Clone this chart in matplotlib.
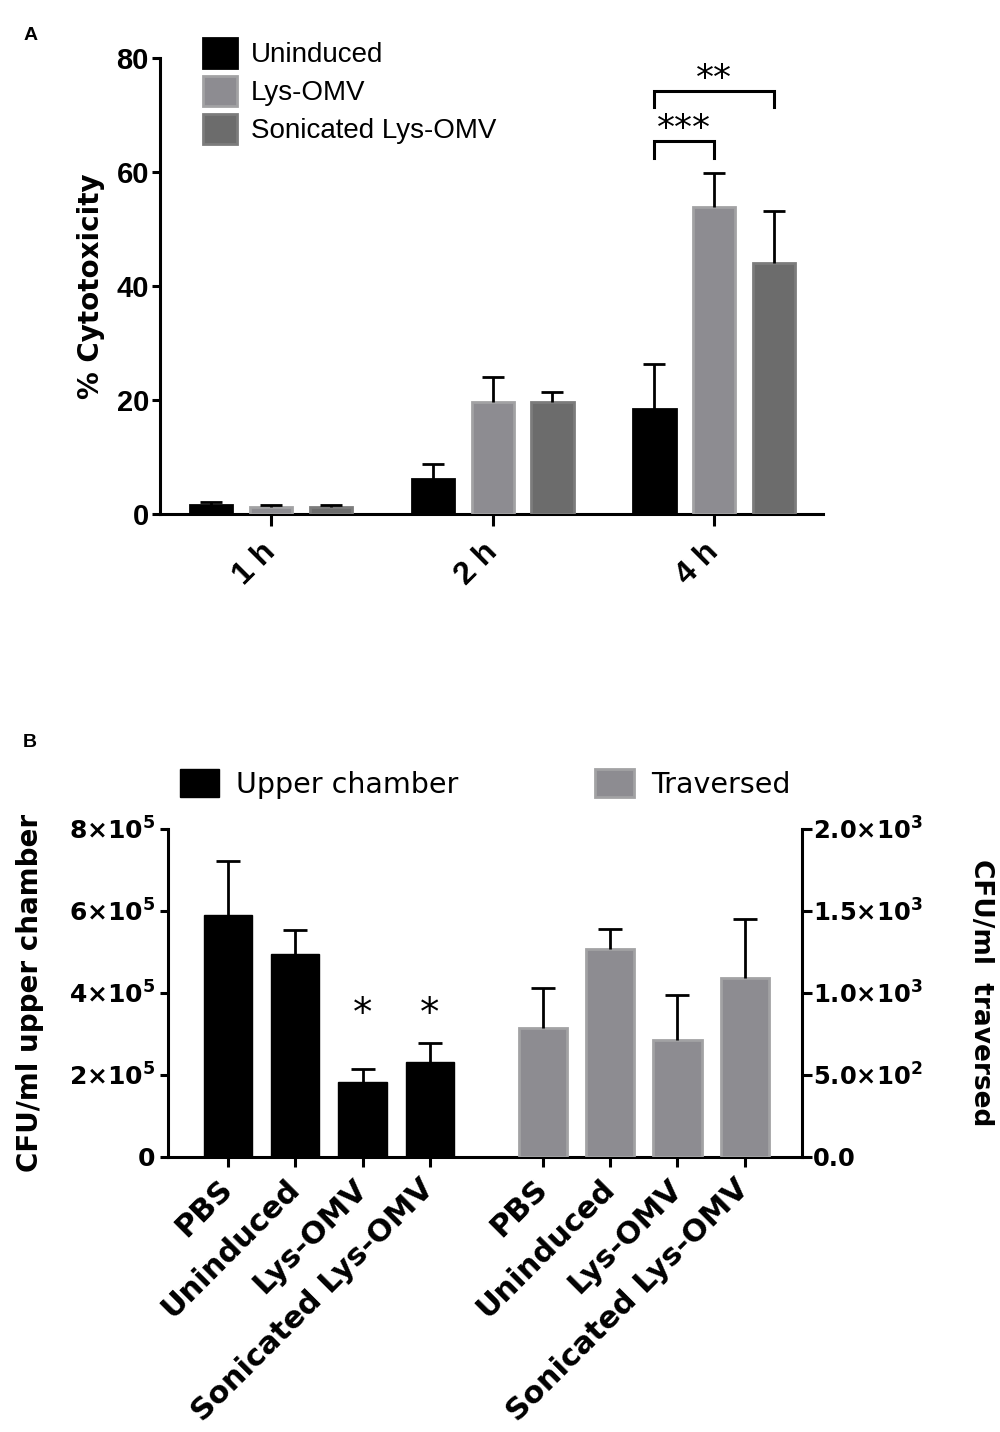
import numpy as np
import matplotlib
matplotlib.use('Agg')
import matplotlib.pyplot as plt
from matplotlib import font_manager

# ---- panel A: % cytotoxicity over time ----
times = ['1 h', '2 h', '4 h']
series_a = ['Uninduced', 'Lys-OMV', 'Sonicated Lys-OMV']
uninduced_mean = [1.6, 6.1, 18.4]
uninduced_err = [0.5, 2.7, 8.0]
lys_mean = [1.2, 19.6, 53.8]
lys_err = [0.35, 4.4, 6.1]
sonic_mean = [1.2, 19.7, 44.1]
sonic_err = [0.4, 1.7, 9.1]
# (group, bar_from, bar_to, leg bottom, bar top, label)
brackets = [(2, 0, 1, 62.5, 65.5, '***'),
            (2, 0, 2, 71.4, 74.2, '**')]

# ---- panel B: CFU/ml ----
conditions = ['PBS', 'Uninduced', 'Lys-OMV', 'Sonicated Lys-OMV']
upper_mean = [5.9e5, 4.96e5, 1.84e5, 2.31e5]
upper_err = [1.31e5, 0.57e5, 0.31e5, 0.47e5]
upper_sig = ['', '', '*', '*']
trav_mean = [787, 1266, 716, 1093]
trav_err = [245, 122, 271, 361]

left_ticks = [0, 2e5, 4e5, 6e5, 8e5]
left_labels = ['0', r'$\mathbf{2{\times}10^{5}}$', r'$\mathbf{4{\times}10^{5}}$',
               r'$\mathbf{6{\times}10^{5}}$', r'$\mathbf{8{\times}10^{5}}$']
right_ticks = [0, 500, 1000, 1500, 2000]
right_labels = ['0.0', r'$\mathbf{5.0{\times}10^{2}}$', r'$\mathbf{1.0{\times}10^{3}}$',
                r'$\mathbf{1.5{\times}10^{3}}$', r'$\mathbf{2.0{\times}10^{3}}$']

names = {f.name for f in font_manager.fontManager.ttflist}
NARROW = 'Liberation Sans Narrow' if 'Liberation Sans Narrow' in names else 'Liberation Sans'
ARIAL = 'Liberation Sans'

LW = 2.2
colors = {'Uninduced': ('#000000', '#000000'),
          'Lys-OMV': ('#8d8c91', '#a2a2a4'),
          'Sonicated Lys-OMV': ('#6c6c6c', '#7c7c7c')}
trav_color = ('#8d8c91', '#a2a2a4')

plt.rcParams['font.family'] = ['DejaVu Sans']
fig = plt.figure(figsize=(10, 14.32), dpi=100)


def err_up(ax, x, mean, err, capsize=8):
    cont = ax.errorbar(x, mean, yerr=[np.zeros(len(err)), err], fmt='none',
                       ecolor='black', elinewidth=2.0, capsize=capsize,
                       capthick=2.0, zorder=4)
    cont[1][0].set_visible(False)


# ================= panel A =================
axA = fig.add_axes([0.160, 1 - 514 / 1432, 0.663, (514 - 58) / 1432])
x = np.arange(len(times))
offs = [-0.27, 0.0, 0.27]
width = 0.19
bars_a = []
for name, m, e, o in zip(series_a, [uninduced_mean, lys_mean, sonic_mean],
                         [uninduced_err, lys_err, sonic_err], offs):
    fc, ec = colors[name]
    b = axA.bar(x + o, m, width, color=fc, edgecolor=ec, linewidth=2.0,
                label=name, zorder=3)
    bars_a.append(b)
    err_up(axA, x + o, m, e)

for g, i0, i1, y0, y1, lab in brackets:
    xa, xb = g + offs[i0], g + offs[i1]
    axA.plot([xa, xa, xb, xb], [y0, y1, y1, y0], color='black', lw=LW,
             solid_joinstyle='miter', clip_on=False)
    axA.text((xa + xb) / 2, y1 - 0.9, lab, ha='center', va='bottom',
             fontsize=26, clip_on=False)

axA.set_xlim(-0.5, 2.49)
axA.set_ylim(0, 80)
axA.set_yticks([0, 20, 40, 60, 80])
axA.set_xticks(x)
axA.set_xticklabels(times, rotation=45, ha='right', va='center',
                    rotation_mode='anchor', fontsize=23, fontweight='bold',
                    family=ARIAL)
for t in axA.get_yticklabels():
    t.set_family(NARROW)
    t.set_fontweight('bold')
    t.set_fontsize(21)
for s in ['top', 'right']:
    axA.spines[s].set_visible(False)
for s in ['left', 'bottom']:
    axA.spines[s].set_linewidth(LW)
axA.tick_params(axis='y', length=6, width=LW, pad=2)
axA.tick_params(axis='x', length=8.5, width=LW, pad=16)
axA.set_ylabel('% Cytotoxicity', fontsize=20, fontweight='bold', labelpad=8)
axA.legend(handles=bars_a, loc='upper left',
           bbox_to_anchor=(0.203, 1 - 38 / 1432), bbox_transform=fig.transFigure,
           frameon=False, borderpad=0, borderaxespad=0,
           prop={'family': NARROW, 'size': 20},
           handlelength=1.22, handleheight=1.28, handletextpad=0.5,
           labelspacing=0.28)
fig.text(0.031, 1 - 36 / 1432, 'A', fontsize=14, fontweight='bold',
         ha='center', va='center', family=ARIAL)

# ================= panel B =================
axB = fig.add_axes([0.168, 1 - 1157 / 1432, 0.634, (1157 - 829) / 1432])
axB2 = axB.twinx()
xu = np.arange(len(conditions))
xt = xu + 4.68
bw = 0.72
b_up = axB.bar(xu, upper_mean, bw, color='black', edgecolor='black',
               linewidth=1.0, label='Upper chamber', zorder=3)
err_up(axB, xu, upper_mean, upper_err, capsize=8.5)
for xi, m, e, s in zip(xu, upper_mean, upper_err, upper_sig):
    if s:
        axB.text(xi, 3.5e5, s, ha='center', va='center', fontsize=28)

b_tr = axB2.bar(xt, trav_mean, bw, color=trav_color[0], edgecolor=trav_color[1],
                linewidth=2.0, label='Traversed', zorder=3)
err_up(axB2, xt, trav_mean, trav_err, capsize=8.5)

axB.set_xlim(-0.89, 8.53)
axB.set_ylim(0, 8e5)
axB2.set_ylim(0, 2000)
axB.set_yticks(left_ticks)
axB.set_yticklabels(left_labels, fontsize=18, fontweight='bold')
axB2.set_yticks(right_ticks)
axB2.set_yticklabels(right_labels, fontsize=17.5, fontweight='bold')
axB.set_xticks(np.concatenate([xu, xt]))
axB.set_xticklabels(conditions + conditions, rotation=45, ha='right', va='center',
                    rotation_mode='anchor', fontsize=22, fontweight='bold')
for a in (axB, axB2):
    a.spines['top'].set_visible(False)
    for s in ['left', 'right', 'bottom']:
        a.spines[s].set_linewidth(LW)
axB.spines['right'].set_visible(False)
axB2.spines['left'].set_visible(False)
axB2.spines['bottom'].set_visible(False)
axB.tick_params(axis='y', length=6, width=LW, pad=3)
axB2.tick_params(axis='y', length=7, width=LW, pad=1)
axB.tick_params(axis='x', length=7.5, width=LW, pad=12)
axB.set_ylabel('CFU/ml upper chamber', fontsize=20, fontweight='bold', labelpad=18)
axB2.set_ylabel('CFU/ml  traversed', fontsize=19, fontweight='bold',
                rotation=270, labelpad=51)
axB2.legend(handles=[b_up, b_tr], loc='upper left', ncol=2,
            bbox_to_anchor=(0.180, 1 - 769 / 1432), bbox_transform=fig.transFigure,
            frameon=False, borderpad=0, borderaxespad=0,
            prop={'family': 'DejaVu Sans', 'size': 20.5},
            handlelength=1.37, handleheight=1.15, handletextpad=0.6,
            columnspacing=4.8)
fig.text(0.030, 1 - 743 / 1432, 'B', fontsize=14, fontweight='bold',
         ha='center', va='center', family=ARIAL)

fig.savefig('out.png', dpi=100)
